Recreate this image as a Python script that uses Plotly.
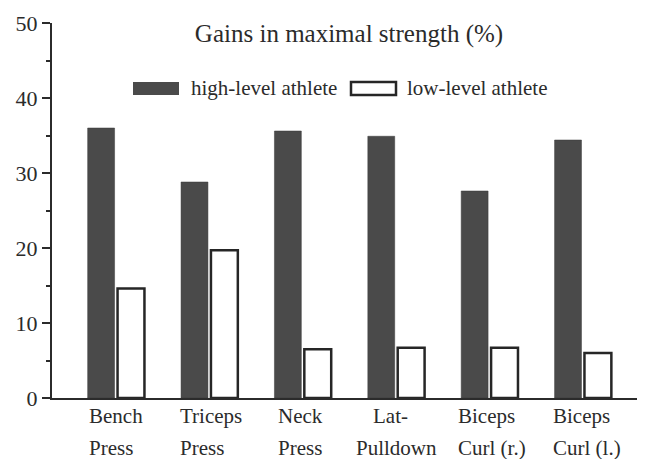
import plotly.graph_objects as go

exercises_top = ["Bench", "Triceps", "Neck", "Lat-", "Biceps", "Biceps"]
exercises_bottom = ["Press", "Press", "Press", "Pulldown", "Curl (r.)", "Curl (l.)"]
high_level = [36.0, 28.8, 35.6, 34.9, 27.6, 34.4]
low_level = [14.6, 19.7, 6.5, 6.7, 6.7, 6.0]
series_names = ["high-level athlete", "low-level athlete"]

serif = "Liberation Serif"
ink = "#2b2b2b"
dark = "#4a4a4a"

# the page body keeps its 8px default margin, so the figure is shrunk by that
OFF = 8
W, H = 645 - OFF, 459 - OFF
L, R, T, B = 52 - OFF, 6, 23 - OFF, 61


def px(x):
    return (x - OFF - L) / (W - L - R)


def py(y):
    return (H - B - (y - OFF)) / (H - T - B)


cats = list(range(len(exercises_top)))

fig = go.Figure()
fig.add_trace(go.Bar(
    x=cats, y=high_level, name=series_names[0],
    marker=dict(color=dark, line=dict(color="#3a3a3a", width=0.5)),
))
fig.add_trace(go.Bar(
    x=cats, y=low_level, name=series_names[1],
    marker=dict(color="white", line=dict(color="#262626", width=2.5)),
))

# legend drawn by hand so the keys get the wide boxes of the original
fig.add_shape(type="rect", xref="paper", yref="paper", x0=px(133), x1=px(179), y0=py(95), y1=py(82),
              fillcolor=dark, line=dict(width=0))
fig.add_shape(type="rect", xref="paper", yref="paper", x0=px(351), x1=px(396), y0=py(95), y1=py(82),
              fillcolor="white", line=dict(color="#262626", width=2.5))
for x0, name in [(189, series_names[0]), (405, series_names[1])]:
    fig.add_annotation(text=name, xref="paper", yref="paper", x=px(x0), y=py(88),
                       xanchor="left", yanchor="middle", showarrow=False,
                       font=dict(size=21, family=serif, color=ink))

# two-line category labels, set a little left of each group like the original
shift_top = [-29, -31, -27, -25, -34, -32]
shift_bottom = [-29, -31, -27, -42, -34, -32]
for c in cats:
    for text, yy, sh in [(exercises_top[c], 416, shift_top[c]), (exercises_bottom[c], 448, shift_bottom[c])]:
        fig.add_annotation(text=text, xref="x", yref="paper", x=c, y=py(yy), xshift=sh,
                           xanchor="left", yanchor="middle", showarrow=False,
                           font=dict(size=21, family=serif, color=ink))

fig.update_layout(
    width=W, height=H,
    margin=dict(l=L, r=R, t=T, b=B),
    paper_bgcolor="white", plot_bgcolor="white",
    barmode="group", bargap=0.36, bargroupgap=0.1,
    font=dict(family=serif, color=ink),
    title=dict(text="Gains in maximal strength (%)", font=dict(size=25, family=serif, color=ink),
               xref="paper", x=px(349), xanchor="center",
               yref="container", y=1 - (33 - OFF) / H, yanchor="middle"),
    showlegend=False,
)

fig.update_xaxes(
    range=[-0.686, 5.6], tickvals=cats, showticklabels=False,
    showline=True, linecolor=ink, linewidth=2,
    ticks="", showgrid=False, zeroline=False, automargin=False,
)
fig.update_yaxes(
    range=[0, 50], tickvals=[0, 10, 20, 30, 40, 50], showline=True, linecolor=ink,
    linewidth=2, ticks="outside", ticklen=8, tickwidth=2, tickcolor=ink,
    minor=dict(tickvals=[5, 15, 25, 35, 45], ticks="outside", ticklen=4, tickwidth=2, tickcolor=ink),
    showgrid=False, zeroline=False, automargin=False,
    tickfont=dict(size=22, family=serif, color=ink),
)

fig.write_html("out.html")
